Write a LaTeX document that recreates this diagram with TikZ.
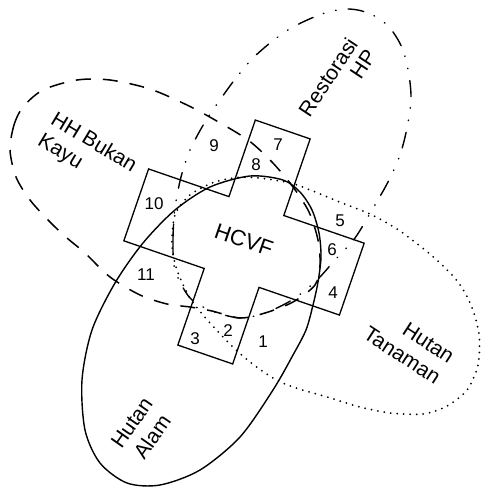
\documentclass[tikz,border=0pt]{standalone}
\usepackage{fontspec}
\setmainfont{Liberation Sans}
\begin{document}
\begin{tikzpicture}[x=1pt,y=-1pt,
  outline/.style={line width=1.4pt, black},
  alamline/.style={outline},
  tanamanline/.style={outline, line width=2pt, dash pattern=on 0pt off 6.5pt, line cap=round},
  hhline/.style={outline, line width=1.5pt, dash pattern=on 15pt off 12pt},
  restoline/.style={outline, dash pattern=on 16pt off 11pt on 0.6pt off 12pt on 0.6pt off 12pt, line cap=round},
  crossline/.style={line width=1.3pt, black, line join=miter},
  numlabel/.style={inner sep=0pt, font=\fontsize{17}{17}\selectfont},
  arealabel/.style={inner sep=0pt, font=\fontsize{21}{25}\selectfont},
]
\useasboundingbox (0,0) rectangle (480,489);

% Hutan Alam (solid)
\draw[alamline] plot[smooth cycle] coordinates {
 (250,176) (283,180) (300,192) (312,210) (319,233) (321,257) (318,282)
 (313,305) (306,330) (293,355) (273,390) (240,437) (200,470) (160,485)
 (127,483) (100,463) (85,430) (82,380) (92,330) (115,283) (143,243)
 (175,210) (210,187)};

% Hutan Tanaman (dotted)
\draw[tanamanline] plot[smooth cycle] coordinates {
 (215,182) (245,177) (280,181) (300,186) (337,201) (370,214) (397,229)
 (420,246) (440,263) (458,282) (471,305) (479,334) (478,365) (467,390)
 (447,406) (423,414) (390,413) (360,407) (327,397) (293,387) (273,378)
 (250,362) (233,347) (210,323) (190,298) (177,270) (172,245) (175,215)
 (190,195)};

% HH Bukan Kayu (dashed)
\draw[hhline] plot[smooth cycle] coordinates {
 (10,150) (14,125) (23,107) (43,90) (77,80) (110,80) (150,89) (187,105)
 (215,120) (248,140) (272,162) (293,187) (309,212) (318,240) (320,265)
 (315,285) (293,302) (265,313) (240,318) (212,311) (190,307) (167,304)
 (140,295) (110,277) (85,253) (67,238) (50,222) (30,200) (16,177)};

% Restorasi HP (dash-dot)
\draw[restoline] plot[smooth cycle] coordinates {
 (175,270) (173,240) (175,208) (181,177) (190,150) (205,122) (222,97)
 (236,78) (252,59) (270,43) (288,30) (305,21) (325,13) (345,9) (362,11)
 (380,19) (393,32) (403,50) (409,75) (411,100) (407,128) (400,155)
 (388,182) (372,210) (355,238) (335,260) (316,281) (292,300) (265,313)
 (240,318) (212,311) (190,298)};

% Cross
\begin{scope}[shift={(244,242)}, rotate=-19]
\draw[crossline] (-29,-119) -- (29,-119) -- (29,-38) -- (114,-38) -- (114,38)
 -- (29,38) -- (29,119) -- (-29,119) -- (-29,38) -- (-114,38) -- (-114,-38)
 -- (-29,-38) -- cycle;
\end{scope}

% Labels
\node[arealabel, rotate=-31, align=left] (lblhh) at (87,154) {HH Bukan\\Kayu};
\node[arealabel, rotate=56.5, align=right, font=\fontsize{21}{22}\selectfont] (lblresto) at (337,83) {Restorasi\\HP};
\node[arealabel, rotate=-33, align=right] (lbltanaman) at (409,345) {Hutan\\Tanaman};
\node[arealabel, rotate=55, align=center] (lblalam) at (142,430) {Hutan\\Alam};
\node[inner sep=0pt, font=\fontsize{22}{22}\selectfont, rotate=-19] (hcvf) at (244,240) {HCVF};

% Numbers
\node[numlabel] (n1) at (263,342) {1};
\node[numlabel] (n2) at (228,331) {2};
\node[numlabel] (n3) at (195,339) {3};
\node[numlabel] (n4) at (333,293) {4};
\node[numlabel] (n5) at (340,221) {5};
\node[numlabel] (n6) at (332,250) {6};
\node[numlabel] (n7) at (278,145) {7};
\node[numlabel] (n8) at (256,165) {8};
\node[numlabel] (n9) at (214,146) {9};
\node[numlabel] (n10) at (154,204) {10};
\node[numlabel] (n11) at (146,275) {11};
\end{tikzpicture}
\end{document}
